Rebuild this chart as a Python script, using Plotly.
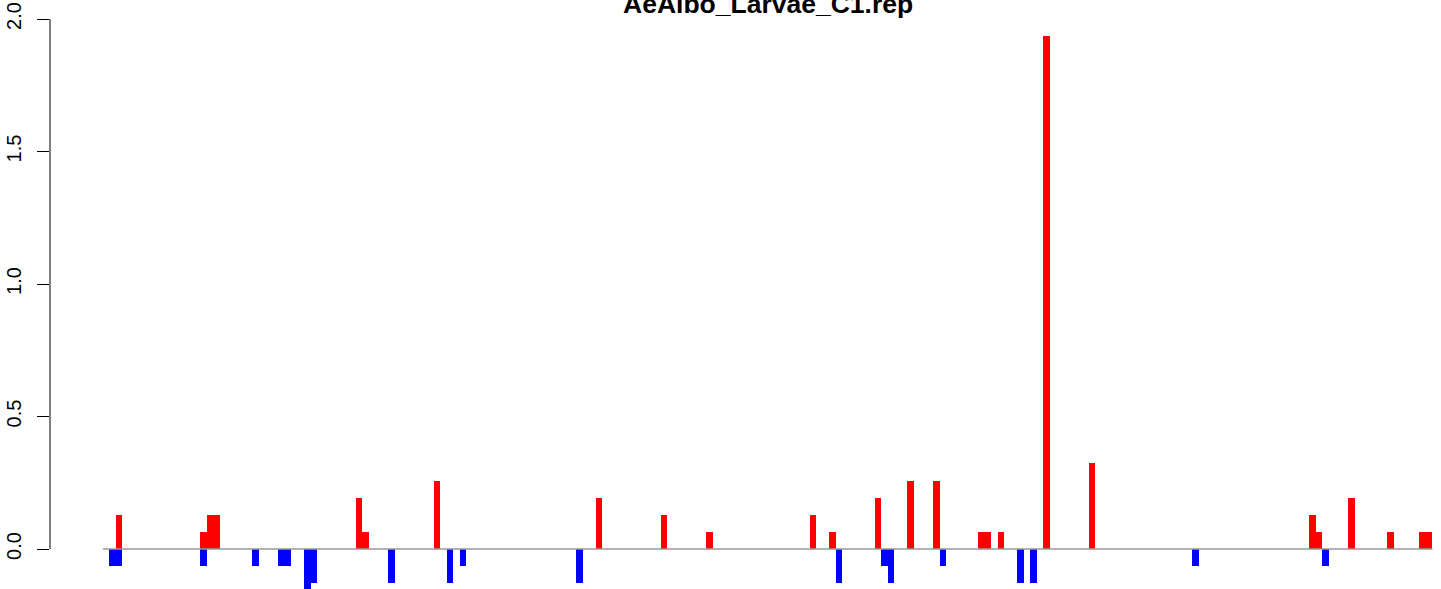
import plotly.graph_objects as go

# ---- data -------------------------------------------------------------
title_text = "AeAlbo_Larvae_C1.rep"
n_bars = 205

up_idx = [2, 15, 16, 17, 39, 40, 51, 76, 86, 93, 109, 112, 119, 124, 128,
          135, 136, 138, 145, 152, 186, 187, 192, 198, 203, 204]
up_vals = [0.129, 0.065, 0.129, 0.129, 0.194, 0.065, 0.258, 0.194, 0.129, 0.065,
           0.129, 0.065, 0.194, 0.258, 0.258, 0.065, 0.065, 0.065, 1.935, 0.323,
           0.129, 0.065, 0.194, 0.065, 0.065, 0.065]

down_idx = [1, 2, 15, 23, 27, 28, 31, 32, 44, 53, 55, 73, 113, 120, 121, 129,
            141, 143, 168, 188]
down_vals = [-0.065, -0.065, -0.065, -0.065, -0.065, -0.065, -0.194, -0.129, -0.129,
             -0.129, -0.065, -0.129, -0.129, -0.065, -0.129, -0.065, -0.129, -0.129,
             -0.065, -0.065]

y_ticks = [0.0, 0.5, 1.0, 1.5, 2.0]
y_tick_labels = ["0.0", "0.5", "1.0", "1.5", "2.0"]

# ---- layout geometry (pixels) -----------------------------------------
W, H = 1441, 589
L = 50                      # plot-region left edge (axis line)
px_bar0 = 103.0             # left edge of first bar slot
px_per_bar = 6.485
px_zero = 549.0
px_per_unit = 265.0

x_lo = (L - px_bar0) / px_per_bar
x_hi = x_lo + (W - L) / px_per_bar
y_hi = px_zero / px_per_unit
y_lo = -(H - px_zero) / px_per_unit

FONT = "Liberation Sans, Arial, Helvetica, sans-serif"

fig = go.Figure()

# zero reference line spanning all bar slots
fig.add_trace(go.Scatter(
    x=[0, n_bars], y=[0, 0], mode="lines",
    line=dict(color="#999999", width=1.6),
    hoverinfo="skip", showlegend=False))

fig.add_trace(go.Bar(
    x=[i + 0.5 for i in up_idx], y=up_vals, width=1.0,
    marker=dict(color="#FF0000", line=dict(width=0)),
    showlegend=False))
fig.add_trace(go.Bar(
    x=[i + 0.5 for i in down_idx], y=down_vals, width=1.0,
    marker=dict(color="#0000FF", line=dict(width=0)),
    showlegend=False))

# R-style y axis line from first to last tick
fig.add_shape(type="line", xref="paper", x0=0, x1=0,
              yref="y", y0=min(y_ticks), y1=max(y_ticks),
              line=dict(color="black", width=1))

# centre of the R plot region (which extends 4% beyond the bars on both sides)
title_x = n_bars / 2
fig.add_annotation(
    text="<b>" + title_text + "</b>",
    xref="x", x=title_x,
    yref="paper", y=1 - 21.5 / H, yanchor="bottom", xanchor="center",
    showarrow=False, font=dict(family=FONT, size=26.5, color="black"))

fig.update_layout(
    width=W, height=H,
    margin=dict(l=L, r=0, t=0, b=0, pad=0),
    paper_bgcolor="white", plot_bgcolor="white",
    barmode="overlay", bargap=0,
    font=dict(family=FONT, size=20, color="black"),
    xaxis=dict(range=[x_lo, x_hi], showgrid=False, zeroline=False,
               showline=False, showticklabels=False, ticks=""),
    yaxis=dict(range=[y_lo, y_hi], showgrid=False, zeroline=False,
               showline=False, tickmode="array", tickvals=y_ticks,
               ticktext=y_tick_labels, ticks="outside", ticklen=12,
               tickwidth=1, tickcolor="black", tickangle=-90,
               ticklabelstandoff=8,
               tickfont=dict(family=FONT, size=20, color="black")),
)

fig.write_html(
    "out.html",
    config={"displayModeBar": False},
    post_script="document.body.style.margin='0px';document.body.style.overflow='hidden';",
)
